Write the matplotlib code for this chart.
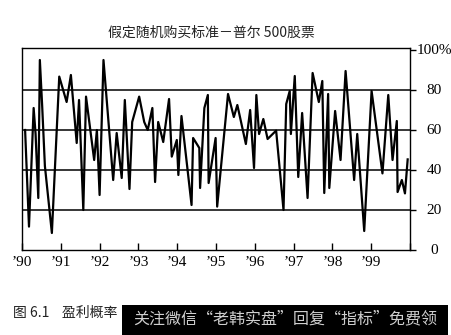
import matplotlib

matplotlib.use("Agg")
import matplotlib.pyplot as plt
from matplotlib.patches import Rectangle

# vertices of the line (decimal years, percent)
years = [
    1990.08, 1990.18, 1990.30, 1990.35, 1990.42, 1990.46, 1990.52, 1990.59,
    1990.77, 1990.96, 1991.15, 1991.26, 1991.41, 1991.47, 1991.58, 1991.65,
    1991.86, 1991.93, 1992.00, 1992.10, 1992.35, 1992.44, 1992.57, 1992.65,
    1992.77, 1992.84, 1993.02, 1993.15, 1993.24, 1993.36, 1993.43, 1993.51,
    1993.64, 1993.79, 1993.86, 1993.99, 1994.03, 1994.11, 1994.37, 1994.41,
    1994.57, 1994.59, 1994.70, 1994.79, 1994.81, 1994.99, 1995.03, 1995.31,
    1995.46, 1995.55, 1995.77, 1995.88, 1995.98, 1996.04, 1996.11, 1996.22,
    1996.33, 1996.55, 1996.74, 1996.81, 1996.90, 1996.93, 1997.03, 1997.12,
    1997.22, 1997.36, 1997.49, 1997.65, 1997.74, 1997.79, 1997.89, 1997.92,
    1998.07, 1998.21, 1998.34, 1998.56, 1998.64, 1998.82, 1999.01, 1999.29,
    1999.44, 1999.55, 1999.66, 1999.68, 1999.79, 1999.87, 1999.94,
]
probability = [
    60, 11.7, 71, 58, 26, 95, 72, 42,
    8.5, 86.7, 74, 87.5, 53.5, 75, 20, 76.7,
    45, 60, 27.5, 95, 35, 58.5, 36, 75,
    30.5, 64, 76.7, 64, 60, 71, 34, 64,
    54, 75.5, 46.7, 55, 37.5, 67, 22.5, 56,
    51, 31, 71, 77.5, 33.5, 56, 21.7, 78,
    66.5, 72.5, 53, 70, 41, 77.5, 58, 65.5,
    55.5, 59.7, 20, 73, 79.5, 58, 87, 36.5,
    68.5, 26, 88.5, 74, 84.5, 28.5, 78, 31,
    69.5, 45, 89.5, 35, 58, 9.5, 79.5, 38.3,
    77.5, 45, 64.5, 29, 35, 28.3, 45.3,
]
year_ticks = list(range(1990, 2001))
year_labels = ["’90", "’91", "’92", "’93", "’94", "’95", "’96", "’97", "’98", "’99", ""]
pct_ticks = [0, 20, 40, 60, 80, 100]
pct_labels = ["0", "20", "40", "60", "80", "100%"]

title = "假定随机购买标准－普尔 500股票"
caption = "图 6.1    盈利概率"
banner = "关注微信“老韩实盘”回复“指标”免费领"

serif = ["Liberation Serif", "DejaVu Serif"]
cjk = ["Noto Sans CJK SC", "DejaVu Sans"]

fig = plt.figure(figsize=(4.52, 3.35), dpi=100)
ax = fig.add_axes([22 / 452, 1 - 250 / 335, 388 / 452, 202 / 335])

for v in pct_ticks[1:-1]:
    ax.axhline(v, color="black", linewidth=1.1, zorder=1)
ax.plot(years, probability, color="black", linewidth=1.6, zorder=2)

ax.set_xlim(1990, 2000)
ax.set_ylim(0, 101)
for s in ax.spines.values():
    s.set_linewidth(1.0)

ax.set_xticks(year_ticks)
ax.set_xticklabels(year_labels, fontfamily=serif, fontsize=11)
ax.tick_params(axis="x", direction="in", length=5, width=1, pad=4)

ax.yaxis.tick_right()
ax.set_yticks(pct_ticks)
ax.set_yticklabels([])
ax.tick_params(axis="y", direction="out", length=4, width=1)
for v, lab in zip(pct_ticks, pct_labels):
    ax.text(1.063, v, lab, transform=ax.get_yaxis_transform(), ha="center",
            va="center", fontfamily=serif, fontsize=11)

fig.text(211 / 452, 1 - 33 / 335, title, ha="center", va="center",
         fontfamily=cjk, fontsize=10, color="#222222")
fig.text(13 / 452, 1 - 313 / 335, caption, ha="left", va="center",
         fontfamily=cjk, fontsize=10, color="#222222")

fig.patches.append(Rectangle((122 / 452, 0), 326 / 452, 30 / 335,
                             transform=fig.transFigure, facecolor="black",
                             edgecolor="none", zorder=5))
fig.text(285 / 452, 1 - 319 / 335, banner, ha="center", va="center",
         fontfamily=cjk, fontsize=11.5, color="#cfcfcf", zorder=6)

fig.savefig("out.png", dpi=100)
